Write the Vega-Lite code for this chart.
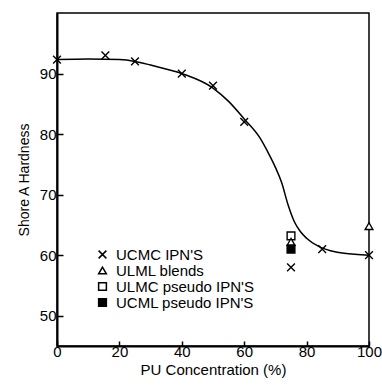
{
  "$schema": "https://vega.github.io/schema/vega-lite/v6.json",
  "width": 312,
  "height": 333,
  "autosize": {"type": "none"},
  "padding": {"left": 57, "top": 13, "right": 13, "bottom": 42},
  "background": "white",
  "config": {
    "font": "Liberation Sans",
    "view": {"stroke": "black", "strokeWidth": 1.5},
    "axis": {
      "grid": false,
      "domainColor": "black",
      "domainWidth": 2,
      "tickColor": "black",
      "tickWidth": 1.5,
      "labelColor": "black",
      "titleColor": "black",
      "labelFontSize": 15,
      "titleFontSize": 14,
      "titleFontWeight": "normal",
      "labelFlush": false,
      "labelOverlap": false
    }
  },
  "datasets": {
    "curve": [
      {"pu": 0, "hardness": 92.3},
      {"pu": 10, "hardness": 92.4},
      {"pu": 20, "hardness": 92.3},
      {"pu": 25, "hardness": 92.0},
      {"pu": 30, "hardness": 91.4},
      {"pu": 40, "hardness": 90.0},
      {"pu": 50, "hardness": 87.6},
      {"pu": 55, "hardness": 85.4},
      {"pu": 60, "hardness": 82.5},
      {"pu": 65, "hardness": 79.4},
      {"pu": 68, "hardness": 76.6},
      {"pu": 70, "hardness": 74.5},
      {"pu": 72, "hardness": 72.0},
      {"pu": 74, "hardness": 68.4},
      {"pu": 76, "hardness": 65.6},
      {"pu": 78, "hardness": 63.9},
      {"pu": 80, "hardness": 62.8},
      {"pu": 84, "hardness": 61.4},
      {"pu": 88, "hardness": 60.7},
      {"pu": 92, "hardness": 60.3},
      {"pu": 100, "hardness": 60.0}
    ],
    "points": [
      {"pu": 0, "hardness": 92.3, "series": "UCMC IPN'S"},
      {"pu": 15.5, "hardness": 93.0, "series": "UCMC IPN'S"},
      {"pu": 25, "hardness": 92.0, "series": "UCMC IPN'S"},
      {"pu": 40, "hardness": 90.0, "series": "UCMC IPN'S"},
      {"pu": 50, "hardness": 88.0, "series": "UCMC IPN'S"},
      {"pu": 60, "hardness": 82.0, "series": "UCMC IPN'S"},
      {"pu": 75, "hardness": 58.0, "series": "UCMC IPN'S"},
      {"pu": 85, "hardness": 61.0, "series": "UCMC IPN'S"},
      {"pu": 100, "hardness": 60.0, "series": "UCMC IPN'S"},
      {"pu": 75, "hardness": 63.2, "series": "ULMC pseudo IPN'S"},
      {"pu": 75, "hardness": 62.2, "series": "ULML blends"},
      {"pu": 100, "hardness": 64.8, "series": "ULML blends"},
      {"pu": 75, "hardness": 61.0, "series": "UCML pseudo IPN'S"}
    ]
  },
  "layer": [
    {
      "data": {"name": "curve"},
      "mark": {"type": "line", "interpolate": "monotone", "color": "black", "strokeWidth": 1.5},
      "encoding": {
        "x": {
          "field": "pu", "type": "quantitative",
          "scale": {"domain": [0, 100], "nice": false, "zero": false},
          "axis": {
            "title": "PU Concentration (%)",
            "titleFontSize": 15,
            "values": [0, 10, 20, 30, 40, 50, 60, 70, 80, 90, 100],
            "labelExpr": "datum.value % 20 == 0 ? datum.label : ''",
            "tickSize": -5,
            "labelPadding": 3,
            "titlePadding": 3
          }
        },
        "y": {
          "field": "hardness", "type": "quantitative",
          "scale": {"domain": [45, 100], "nice": false, "zero": false},
          "axis": {
            "title": "Shore A Hardness",
            "values": [50, 60, 70, 80, 90],
            "tickSize": -6,
            "labelPadding": 7,
            "titlePadding": 8
          }
        }
      }
    },
    {
      "data": {"name": "points"},
      "mark": {"type": "point", "filled": true, "stroke": "black", "strokeWidth": 1.4, "size": 60, "opacity": 1},
      "encoding": {
        "x": {"field": "pu", "type": "quantitative"},
        "y": {"field": "hardness", "type": "quantitative"},
        "shape": {
          "field": "series", "type": "nominal",
          "scale": {
            "domain": ["UCMC IPN'S", "ULML blends", "ULMC pseudo IPN'S", "UCML pseudo IPN'S"],
            "range": ["M-1,-1L1,1M1,-1L-1,1", "triangle-up", "square", "square"]
          },
          "legend": {
            "title": null,
            "orient": "none",
            "legendX": 38,
            "legendY": 234,
            "labelFontSize": 15,
            "labelColor": "black",
            "symbolSize": 60,
            "rowPadding": 0,
            "labelOffset": 6,
            "encode": {
              "symbols": {
                "update": {
                  "stroke": {"value": "black"},
                  "strokeWidth": {"value": 1.4},
                  "opacity": {"value": 1}
                }
              }
            }
          }
        },
        "fill": {
          "field": "series", "type": "nominal",
          "scale": {
            "domain": ["UCMC IPN'S", "ULML blends", "ULMC pseudo IPN'S", "UCML pseudo IPN'S"],
            "range": ["white", "white", "white", "black"]
          },
          "legend": {
            "title": null,
            "orient": "none",
            "legendX": 38,
            "legendY": 234,
            "labelFontSize": 15,
            "labelColor": "black",
            "symbolSize": 60,
            "rowPadding": 0,
            "labelOffset": 6,
            "encode": {
              "symbols": {
                "update": {
                  "stroke": {"value": "black"},
                  "strokeWidth": {"value": 1.4},
                  "opacity": {"value": 1}
                }
              }
            }
          }
        }
      }
    }
  ]
}
